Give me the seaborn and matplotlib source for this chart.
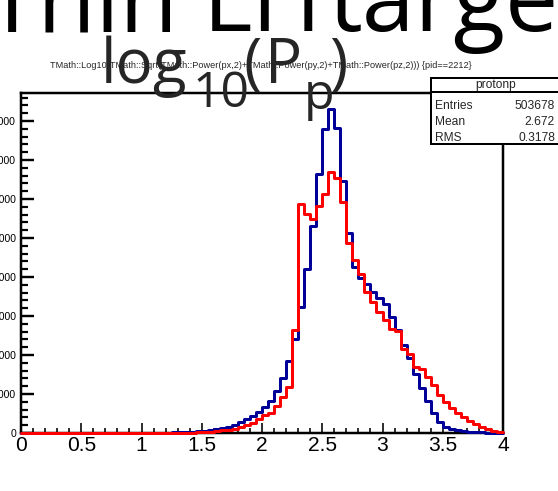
import numpy as np
import pandas as pd
import matplotlib
matplotlib.use("Agg")
import matplotlib.pyplot as plt
from matplotlib import font_manager
from matplotlib.patches import Rectangle
from matplotlib.lines import Line2D
from matplotlib.ticker import MultipleLocator, FixedLocator
import seaborn as sns

# ---- data: log10(p) of protons, 80 bins of width 0.05 on [0, 4] ----
bin_edges = [round(0.05 * i, 2) for i in range(81)]
bin_centers = [round(e + 0.025, 3) for e in bin_edges[:-1]]

protonp_counts = [
    0, 0, 0, 0, 0, 0, 0, 0, 0, 0,
    0, 0, 0, 0, 0, 0, 0, 0, 0, 0,
    10, 15, 25, 35, 50, 70, 95, 130, 170, 218,
    294, 384, 512, 640, 806, 1023, 1369, 1752, 2175, 2724,
    3364, 4131, 5410, 6996, 9209, 12112, 16154, 21065, 26603, 33216,
    38971, 41529, 39048, 32359, 25644, 21270, 19914, 19146, 18072, 17356,
    16589, 14875, 13174, 11255, 9593, 7546, 5756, 4093, 2558, 1445,
    806, 576, 409, 281, 192, 128, 90, 64, 40, 26,
]
thin_target_counts = [
    0, 0, 0, 0, 0, 0, 0, 0, 0, 0,
    0, 0, 0, 0, 0, 0, 0, 0, 0, 0,
    3, 5, 8, 12, 18, 25, 35, 48, 64, 90,
    128, 166, 256, 345, 422, 550, 729, 1023, 1317, 1752,
    2302, 2622, 3454, 4643, 5922, 13174, 29379, 28100, 27460, 29161,
    30658, 33510, 32653, 29583, 24365, 22216, 20426, 18072, 16793, 15514,
    14453, 13391, 13046, 10833, 10194, 8480, 8186, 7201, 6139, 4860,
    4003, 3159, 2596, 2008, 1573, 1151, 806, 512, 256, 166,
]

x_ticks = [0, 0.5, 1, 1.5, 2, 2.5, 3, 3.5, 4]
x_tick_labels = ["0", "0.5", "1", "1.5", "2", "2.5", "3", "3.5", "4"]
y_ticks = [0, 5000, 10000, 15000, 20000, 25000, 30000, 35000, 40000]
y_tick_labels = ["0", "5000", "10000", "15000", "20000", "25000", "30000", "35000", "40000"]

hist_title = "TMath::Log10(TMath::Sqrt(TMath::Power(px,2)+TMath::Power(py,2)+TMath::Power(pz,2))) {pid==2212}"
stats_name = "protonp"
stats_rows = [("Entries", "503678"), ("Mean", "2.672"), ("RMS", "0.3178")]
caption_words = ["Thin", "LH", "target"]

# ---- fonts ----
def pick_family(names):
    for name in names:
        try:
            font_manager.findfont(font_manager.FontProperties(family=name),
                                  fallback_to_default=False)
            return name
        except Exception:
            continue
    return "DejaVu Sans"

sns.set_style("white")
narrow = pick_family(["Liberation Sans Narrow", "Arial Narrow", "Liberation Sans"])
slide = pick_family(["Open Sans", "Noto Sans", "DejaVu Sans"])
plt.rcParams["font.family"] = [narrow, "DejaVu Sans"]

W, H = 558, 491
PX = 72.0 / 100.0  # points per pixel at 100 dpi


def fx(x):
    return x / W


def fy(y):
    return 1.0 - y / H


fig = plt.figure(figsize=(W / 100, H / 100), dpi=100)
fig.patch.set_facecolor("white")
ax = fig.add_axes([fx(21), fy(433), (503 - 21) / W, (433 - 93) / H])
ax.set_facecolor("white")

df = pd.DataFrame({"log10p": bin_centers,
                   "protonp": protonp_counts,
                   "thin": thin_target_counts})

sns.histplot(data=df, x="log10p", weights="protonp", bins=bin_edges,
             element="step", fill=False, color="#000099",
             linewidth=3 * PX, ax=ax, zorder=3, clip_on=False)
sns.histplot(data=df, x="log10p", weights="thin", bins=bin_edges,
             element="step", fill=False, color="#ff0000",
             linewidth=3 * PX, ax=ax, zorder=4, clip_on=False)

ax.set_xlim(0, 4)
ax.set_ylim(0, 43600)
ax.set_xlabel("")
ax.set_ylabel("")

ax.xaxis.set_major_locator(FixedLocator(x_ticks))
ax.set_xticklabels(x_tick_labels)
ax.xaxis.set_minor_locator(MultipleLocator(0.1))
ax.yaxis.set_major_locator(FixedLocator(y_ticks))
ax.set_yticklabels(y_tick_labels)
ax.yaxis.set_minor_locator(MultipleLocator(1000))

ax.tick_params(axis="x", which="both", direction="in", bottom=True, top=False,
               colors="black", labelsize=21 * PX, pad=3 * PX)
ax.tick_params(axis="x", which="major", length=10 * PX, width=1.6 * PX)
ax.tick_params(axis="x", which="minor", length=5 * PX, width=1.6 * PX)
ax.tick_params(axis="y", which="both", direction="in", left=True, right=False,
               colors="black", labelsize=10.5 * PX, pad=5 * PX)
ax.tick_params(axis="y", which="major", length=13 * PX, width=2.4 * PX)
ax.tick_params(axis="y", which="minor", length=6.5 * PX, width=2.2 * PX)

for side in ["left", "right", "top", "bottom"]:
    ax.spines[side].set_visible(True)
    ax.spines[side].set_color("black")
    ax.spines[side].set_linewidth(2.5 * PX)

# ---- statistics box ----
box_l, box_r, box_t, box_b, box_sep = 431, 561, 78, 143.5, 92.3
fig.add_artist(Rectangle((fx(box_l), fy(box_b)), (box_r - box_l) / W,
                         (box_b - box_t) / H, transform=fig.transFigure,
                         facecolor="white", edgecolor="black",
                         linewidth=2 * PX, zorder=5))
fig.add_artist(Line2D([fx(box_l), fx(box_r)], [fy(box_sep), fy(box_sep)],
                      transform=fig.transFigure, color="black",
                      linewidth=2 * PX, zorder=6))
fig.text(fx(496), fy(85.5), stats_name, ha="center", va="center",
         fontsize=12 * PX, zorder=7)
for i, (label, value) in enumerate(stats_rows):
    yc = 106 + 16 * i
    fig.text(fx(435), fy(yc), label, ha="left", va="center",
             fontsize=12 * PX, zorder=7)
    fig.text(fx(555), fy(yc), value, ha="right", va="center",
             fontsize=12 * PX, zorder=7)

# ---- histogram title ----
fig.text(fx(261), fy(65), hist_title, ha="center", va="center",
         fontsize=9.2 * PX, zorder=7)

# ---- slide captions drawn over the plot ----
for word, x0 in zip(caption_words, [-15, 203, 328]):
    fig.text(fx(x0), fy(31), word, ha="left", va="baseline",
             fontsize=95 * PX, family=slide, color="black", zorder=8)
fig.text(fx(101), fy(83), "log", ha="left", va="baseline",
         fontsize=62 * PX, family=slide, zorder=8)
fig.text(fx(192), fy(107), "10", ha="left", va="baseline",
         fontsize=50 * PX, family=slide, zorder=8)
fig.text(fx(244), fy(83), "(", ha="left", va="baseline",
         fontsize=62 * PX, family=slide, zorder=8)
fig.text(fx(265), fy(83), "P", ha="left", va="baseline",
         fontsize=62 * PX, family=slide, zorder=8)
fig.text(fx(304), fy(109), "p", ha="left", va="baseline",
         fontsize=50 * PX, family=slide, zorder=8)
fig.text(fx(329), fy(83), ")", ha="left", va="baseline",
         fontsize=62 * PX, family=slide, zorder=8)

fig.savefig("out.png", dpi=100)
